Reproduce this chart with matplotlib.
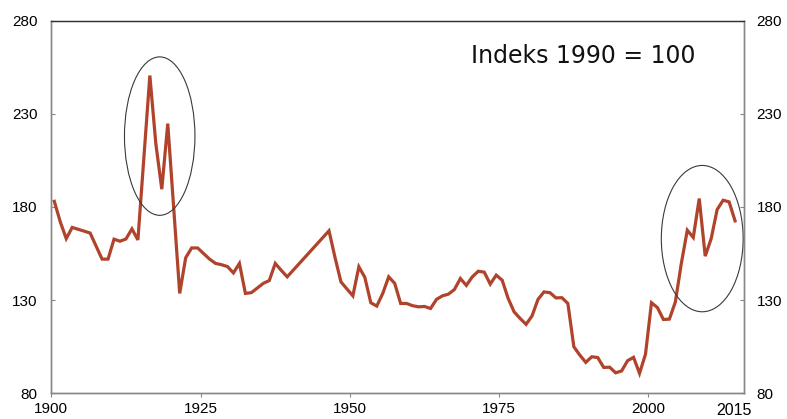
import numpy as np
import matplotlib.pyplot as plt
from matplotlib.patches import Ellipse

# Indeks, 1990 = 100 (lest av fra figuren)
years = [1900, 1901, 1902, 1903, 1904, 1905, 1906, 1907, 1908, 1909,
         1910, 1911, 1912, 1913, 1914, 1916, 1917, 1918, 1919, 1921,
         1922, 1923, 1924, 1925, 1926, 1927, 1928, 1929, 1930, 1931,
         1932, 1933, 1934, 1935, 1936, 1937, 1938, 1939, 1946, 1947,
         1948, 1949, 1950, 1951, 1952, 1953, 1954, 1955, 1956, 1957,
         1958, 1959, 1960, 1961, 1962, 1963, 1964, 1965, 1966, 1967,
         1968, 1969, 1970, 1971, 1972, 1973, 1974, 1975, 1976, 1977,
         1978, 1979, 1980, 1981, 1982, 1983, 1984, 1985, 1986, 1987,
         1988, 1989, 1990, 1991, 1992, 1993, 1994, 1995, 1996, 1997,
         1998, 1999, 2000, 2001, 2002, 2003, 2004, 2005, 2006, 2007,
         2008, 2009, 2010, 2011, 2012, 2013, 2014]
indeks = [183.0, 172.0, 163.0, 169.0, 168.0, 167.0, 166.0, 159.0, 152.0, 152.0,
          162.7, 161.6, 162.8, 168.2, 162.3, 250.5, 214.0, 189.5, 224.7, 133.6,
          152.7, 158.0, 158.0, 155.0, 152.0, 149.7, 149.0, 148.0, 144.6, 149.7,
          133.6, 134.0, 136.5, 139.0, 140.5, 149.7, 146.0, 142.5, 167.2, 153.0,
          139.8, 136.0, 132.3, 147.9, 142.2, 128.6, 126.8, 133.6, 142.5, 139.0,
          128.2, 128.2, 127.0, 126.4, 126.6, 125.5, 130.4, 132.3, 133.2, 135.7,
          141.6, 137.9, 142.5, 145.5, 145.0, 138.6, 143.4, 140.7, 130.9, 123.7,
          120.2, 117.0, 121.5, 130.4, 134.4, 134.0, 131.2, 131.3, 128.2, 105.0,
          100.5, 96.6, 99.6, 99.2, 93.9, 94.0, 91.0, 92.0, 97.5, 99.3,
          90.7, 101.0, 128.6, 126.0, 119.6, 119.8, 129.0, 149.7, 167.5, 163.6,
          184.5, 153.6, 163.0, 178.6, 183.6, 182.7, 172.5]

x_ticks = [1900, 1925, 1950, 1975, 2000]
y_ticks = [80, 130, 180, 230, 280]

LINE_COLOR = "#B0432B"
SPINE_COLOR = "#878787"

fig = plt.figure(figsize=(7.87, 4.19), dpi=100)
ax = fig.add_axes([0.0652, 0.0613, 0.8802, 0.8897])
ax2 = ax.twinx()

# punktene ligger midt i hver årskategori
x = np.array(years) + 0.5
ax.plot(x, indeks, color=LINE_COLOR, linewidth=2.3, solid_joinstyle="miter",
        zorder=3)

ax.set_xlim(1900, 2016)
for a in (ax, ax2):
    a.set_ylim(80, 280)
    a.set_yticks(y_ticks)
    a.set_yticklabels([str(v) for v in y_ticks], family="Liberation Sans",
                      fontsize=11)
    for side in ("left", "right", "bottom"):
        a.spines[side].set_color(SPINE_COLOR)
        a.spines[side].set_linewidth(1.0)
    a.spines["top"].set_color("#333333")
    a.spines["top"].set_linewidth(0.9)

ax.set_xticks(x_ticks)
ax.set_xticklabels([str(v) for v in x_ticks], family="Liberation Sans",
                   fontsize=11)
ax.tick_params(axis="y", direction="in", length=3, pad=10, color=SPINE_COLOR)
ax2.tick_params(axis="y", direction="in", length=3, pad=9, color=SPINE_COLOR)
ax.tick_params(axis="x", direction="out", length=3, pad=3, color=SPINE_COLOR)
ax.text(2014.3, -0.047, "2015", transform=ax.get_xaxis_transform(),
        ha="center", va="center", family="Liberation Sans", fontsize=11.5)

# markering av toppene
ax.add_patch(Ellipse((1918.15, 218), 11.8, 85, fill=False,
                     edgecolor="#3a3a3a", linewidth=0.8, zorder=4))
ax.add_patch(Ellipse((2009.0, 163), 13.7, 78.5, fill=False,
                     edgecolor="#3a3a3a", linewidth=0.8, zorder=4))

ax.text(0.606, 0.905, "Indeks 1990 = 100", transform=ax.transAxes,
        ha="left", va="center", family="DejaVu Sans", fontsize=17,
        color="#111111")

fig.savefig("out.png", dpi=100)
